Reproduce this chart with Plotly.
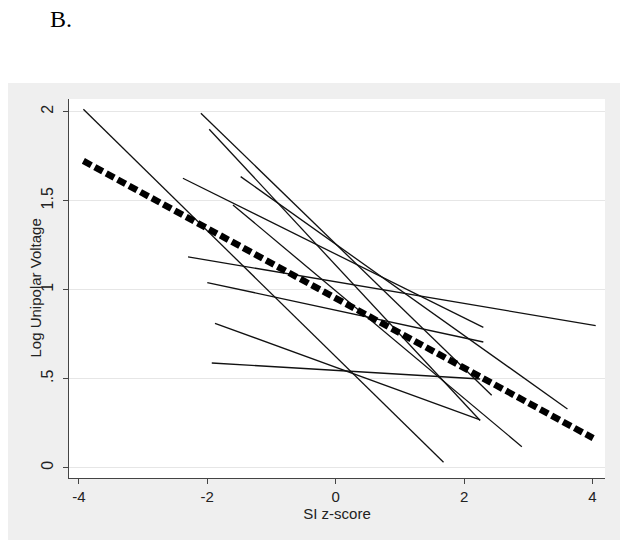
import plotly.graph_objects as go

# Individual subject regression lines: start/end points
subj_x0 = [-3.93, -2.10, -1.97, -1.48, -2.38, -2.30, -2.00, -1.88, -1.93, -1.60]
subj_y0 = [2.013, 1.991, 1.901, 1.635, 1.626, 1.184, 1.040, 0.811, 0.588, 1.476]
subj_x1 = [1.68, 2.43, 2.25, 3.61, 2.30, 4.05, 2.30, 2.25, 2.25, 2.90]
subj_y1 = [0.030, 0.407, 0.265, 0.330, 0.788, 0.798, 0.706, 0.268, 0.498, 0.118]

# Pooled fit line
fit_x = [-3.93, 4.01]
fit_y = [1.723, 0.166]

x_tickvals = [-4, -2, 0, 2, 4]
x_ticktext = ["-4", "-2", "0", "2", "4"]
y_tickvals = [0, 0.5, 1, 1.5, 2]
y_ticktext = ["0", ".5", "1", "1.5", "2"]

fig = go.Figure()
for xa, ya, xb, yb in zip(subj_x0, subj_y0, subj_x1, subj_y1):
    fig.add_trace(go.Scatter(x=[xa, xb], y=[ya, yb], mode="lines",
                             line=dict(color="#111111", width=1.3),
                             showlegend=False, hoverinfo="skip"))
fig.add_trace(go.Scatter(x=fit_x, y=fit_y, mode="lines",
                         line=dict(color="black", width=6.5, dash="9px,4px"),
                         showlegend=False, hoverinfo="skip"))

W, H = 630, 549
L, R, T, B = 69, W - 605, 99, H - 478
pw, ph = W - L - R, H - T - B

def px_x(p):
    return (p - L) / pw

def px_y(p):
    return (H - B - p) / ph

fig.update_layout(
    width=W, height=H,
    margin=dict(l=L, r=R, t=T, b=B, autoexpand=False),
    paper_bgcolor="white",
    plot_bgcolor="rgba(0,0,0,0)",
    font=dict(family="Liberation Sans, Arial, sans-serif", size=15, color="#222222"),
    shapes=[
        dict(type="rect", xref="paper", yref="paper", layer="below",
             x0=px_x(8), x1=px_x(620), y0=px_y(540), y1=px_y(83),
             fillcolor="#efefef", line=dict(width=0)),
        dict(type="rect", xref="paper", yref="paper", layer="below",
             x0=0, x1=1, y0=0, y1=1,
             fillcolor="white", line=dict(width=0)),
    ],
    annotations=[
        dict(text="B.", xref="paper", yref="paper", x=px_x(48), y=px_y(19),
             xanchor="left", yanchor="middle", showarrow=False,
             font=dict(family="Liberation Serif, Times New Roman, serif", size=24, color="black")),
        dict(text="Log Unipolar Voltage", xref="paper", yref="paper",
             x=px_x(35), y=0.5, xanchor="center", yanchor="middle",
             textangle=-90, showarrow=False,
             font=dict(family="Liberation Sans, Arial, sans-serif", size=15, color="#222222")),
    ],
    xaxis=dict(range=[-4.154, 4.195], tickvals=x_tickvals, ticktext=x_ticktext,
               showgrid=False, zeroline=False, showline=True, linecolor="#444444", linewidth=1.3,
               ticks="outside", ticklen=5, tickcolor="#444444", tickwidth=1.2,
               title=dict(text="SI z-score", standoff=4, font=dict(size=15))),
    yaxis=dict(range=[-0.058, 2.071], tickvals=y_tickvals, ticktext=y_ticktext,
               showgrid=True, gridcolor="#e6e6e6", gridwidth=1,
               zeroline=False, showline=True, linecolor="#444444", linewidth=1.3,
               ticks="outside", ticklen=5, tickcolor="#444444", tickwidth=1.2,
               tickangle=-90, ticklabelstandoff=3, tickfont=dict(size=16)),
)

# remove the browser's default 8px body margin so the figure fills the window
fig.write_html("out.html", config={"displayModeBar": False},
               post_script="document.body.style.margin='0';")
